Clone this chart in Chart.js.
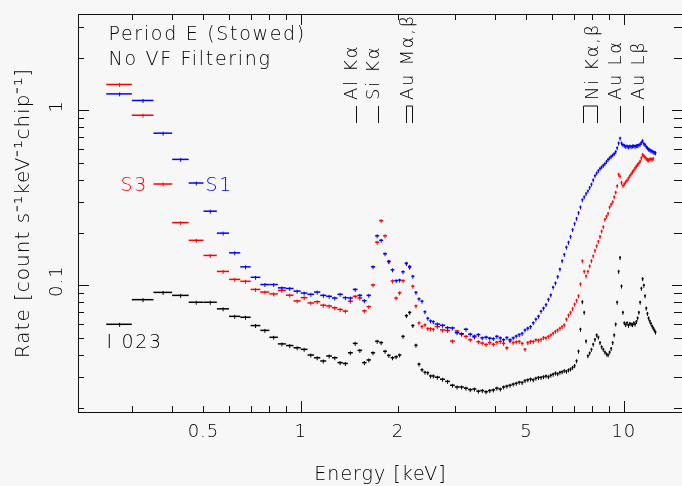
<!DOCTYPE html>
<html>
<head>
<meta charset="utf-8">
<script src="https://cdn.jsdelivr.net/npm/chart.js@4.4.1/dist/chart.umd.min.js"></script>
<style>
  html, body { margin: 0; padding: 0; background: #f7f7f7; overflow: hidden; }
  #wrap { width: 684px; height: 486px; }
  canvas { display: block; }
</style>
</head>
<body>
<div id="wrap"><canvas id="spectrum" width="684" height="486"></canvas></div>
<script>
// bin centres (keV): 0.05 keV bins below 2.6 keV, 0.1 keV bins above
const fineEnergy = [0.275, 0.325, 0.375, 0.425, 0.475, 0.525, 0.575, 0.625, 0.675, 0.725,
  0.775, 0.825, 0.875, 0.925, 0.975, 1.025, 1.075, 1.125, 1.175, 1.225,
  1.275, 1.325, 1.375, 1.425, 1.475, 1.525, 1.575, 1.625, 1.675, 1.725,
  1.775, 1.825, 1.875, 1.925, 1.975, 2.025, 2.075, 2.125, 2.175, 2.225,
  2.275, 2.325, 2.375, 2.425, 2.475, 2.525, 2.575];
const fineWidth = 0.05;
const coarseEnergy = [2.65, 2.75, 2.85, 2.95, 3.05, 3.15, 3.25, 3.35, 3.45, 3.55,
  3.65, 3.75, 3.85, 3.95, 4.05, 4.15, 4.25, 4.35, 4.45, 4.55,
  4.65, 4.75, 4.85, 4.95, 5.05, 5.15, 5.25, 5.35, 5.45, 5.55,
  5.65, 5.75, 5.85, 5.95, 6.05, 6.15, 6.25, 6.35, 6.45, 6.55,
  6.65, 6.75, 6.85, 6.95, 7.05, 7.15, 7.25, 7.35, 7.45, 7.55,
  7.65, 7.75, 7.85, 7.95, 8.05, 8.15, 8.25, 8.35, 8.45, 8.55,
  8.65, 8.75, 8.85, 8.95, 9.05, 9.15, 9.25, 9.35, 9.45, 9.55,
  9.65, 9.75, 9.85, 9.95, 10.05, 10.15, 10.25, 10.35, 10.45, 10.55,
  10.65, 10.75, 10.85, 10.95, 11.05, 11.15, 11.25, 11.35, 11.45, 11.55,
  11.65, 11.75, 11.85, 11.95, 12.05, 12.15, 12.25, 12.35, 12.45, 12.55];
const coarseWidth = 0.1;

// S1 (blue)
const s1Fine = [1.241, 1.138, 0.740, 0.524, 0.384, 0.265, 0.1985, 0.1532, 0.1274, 0.111,
  0.1009, 0.1009, 0.0966, 0.0958, 0.0925, 0.0902, 0.0887, 0.0914, 0.0875, 0.0864,
  0.0845, 0.0887, 0.0849, 0.0845, 0.0946, 0.0875, 0.0816, 0.0875, 0.1274, 0.1917,
  0.1806, 0.1513, 0.1369, 0.1225, 0.1062, 0.1070, 0.1194, 0.1335, 0.1280, 0.1124,
  0.0910, 0.0836, 0.0810, 0.0705, 0.0647, 0.0625, 0.0619];
const s1Coarse = [0.0600, 0.0590, 0.0572, 0.0570, 0.0535, 0.0528, 0.0560, 0.0525, 0.0512, 0.0522,
  0.0500, 0.0505, 0.0498, 0.0495, 0.0510, 0.0500, 0.0488, 0.0502, 0.0488, 0.0500,
  0.0512, 0.0522, 0.0530, 0.0555, 0.0568, 0.0580, 0.0610, 0.0640, 0.0665, 0.0710,
  0.0740, 0.0775, 0.0830, 0.0880, 0.0974, 0.1030, 0.1120, 0.1236, 0.1380, 0.1500,
  0.1650, 0.1760, 0.1900, 0.2080, 0.2250, 0.2410, 0.2600, 0.2800, 0.3080, 0.3200,
  0.3340, 0.3460, 0.3620, 0.3780, 0.4000, 0.4230, 0.4380, 0.4520, 0.4650, 0.4750,
  0.4850, 0.4950, 0.5100, 0.5230, 0.5350, 0.5450, 0.5550, 0.5650, 0.5800, 0.6100,
  0.6500, 0.6930, 0.6500, 0.6360, 0.6300, 0.6220, 0.6250, 0.6180, 0.6250, 0.6200,
  0.6250, 0.6270, 0.6220, 0.6280, 0.6300, 0.6330, 0.6400, 0.6550, 0.6700, 0.6450,
  0.6360, 0.6200, 0.6100, 0.6000, 0.5950, 0.5880, 0.5850, 0.5780, 0.5750, 0.5720];

// S3 (red)
const s3Fine = [1.405, 0.937, 0.379, 0.228, 0.1806, 0.148, 0.1199, 0.108, 0.1053, 0.0946,
  0.0914, 0.0892, 0.0934, 0.0877, 0.0813, 0.0849, 0.0792, 0.0805, 0.0769, 0.0761,
  0.0743, 0.0727, 0.0711, 0.0810, 0.0864, 0.0845, 0.0714, 0.0754, 0.1004, 0.176,
  0.234, 0.1917, 0.1364, 0.1058, 0.0845, 0.0905, 0.1062, 0.133, 0.1263, 0.0987,
  0.0761, 0.0609, 0.0581, 0.0594, 0.0565, 0.0565, 0.0560];
const s3Coarse = [0.0580, 0.0555, 0.0551, 0.0480, 0.0547, 0.0525, 0.0510, 0.0488, 0.0505, 0.0475,
  0.0467, 0.0458, 0.0470, 0.0460, 0.0472, 0.0477, 0.0465, 0.0439, 0.0480, 0.0470,
  0.0475, 0.0477, 0.0465, 0.0430, 0.0470, 0.0477, 0.0477, 0.0488, 0.0485, 0.0490,
  0.0502, 0.0500, 0.0510, 0.0520, 0.0532, 0.0545, 0.0555, 0.0568, 0.0580, 0.0594,
  0.0640, 0.0675, 0.0700, 0.0735, 0.0780, 0.0820, 0.0870, 0.1018, 0.1380, 0.1200,
  0.1130, 0.1200, 0.1290, 0.1380, 0.1470, 0.1580, 0.1680, 0.1780, 0.1900, 0.2040,
  0.2160, 0.2380, 0.2480, 0.2570, 0.2800, 0.2900, 0.3000, 0.3200, 0.3400, 0.3700,
  0.4310, 0.4200, 0.3870, 0.3710, 0.3800, 0.3900, 0.3980, 0.4100, 0.4220, 0.4330,
  0.4450, 0.4550, 0.4680, 0.4800, 0.4900, 0.5000, 0.5120, 0.5350, 0.5590, 0.5500,
  0.5400, 0.5300, 0.5240, 0.5200, 0.5260, 0.5280, 0.5240, 0.5300];

// I 023 (black)
const i023Fine = [0.0598, 0.0827, 0.0910, 0.0875, 0.0799, 0.0799, 0.0733, 0.0664, 0.0656, 0.0588,
  0.0552, 0.0504, 0.0462, 0.0452, 0.0439, 0.0430, 0.0399, 0.0385, 0.0369, 0.0394,
  0.0385, 0.0361, 0.0357, 0.0411, 0.0465, 0.0424, 0.0361, 0.0374, 0.0411, 0.0478,
  0.0470, 0.0419, 0.0397, 0.0385, 0.0390, 0.0399, 0.0510, 0.0670, 0.0699, 0.0588,
  0.0454, 0.0354, 0.0329, 0.0318, 0.0316, 0.0303, 0.0303];
const i023Coarse = [0.0298, 0.0290, 0.0282, 0.0268, 0.0262, 0.0262, 0.0258, 0.0253, 0.0255, 0.0248,
  0.0250, 0.0246, 0.0250, 0.0252, 0.0258, 0.0255, 0.0262, 0.0265, 0.0268, 0.0272,
  0.0275, 0.0279, 0.0278, 0.0285, 0.0288, 0.0291, 0.0288, 0.0294, 0.0297, 0.0297,
  0.0300, 0.0303, 0.0300, 0.0306, 0.0310, 0.0315, 0.0312, 0.0318, 0.0320, 0.0325,
  0.0322, 0.0328, 0.0332, 0.0339, 0.0347, 0.0370, 0.0420, 0.0560, 0.0805, 0.0700,
  0.0480, 0.0395, 0.0410, 0.0430, 0.0460, 0.0490, 0.0520, 0.0505, 0.0470, 0.0445,
  0.0430, 0.0415, 0.0405, 0.0400, 0.0415, 0.0435, 0.0470, 0.0520, 0.0600, 0.0800,
  0.1200, 0.1440, 0.0990, 0.0700, 0.0610, 0.0595, 0.0610, 0.0590, 0.0605, 0.0600,
  0.0595, 0.0610, 0.0600, 0.0620, 0.0650, 0.0700, 0.0800, 0.0960, 0.1090, 0.1000,
  0.0870, 0.0740, 0.0690, 0.0650, 0.0625, 0.0605, 0.0585, 0.0570, 0.0555, 0.0540];

const seriesNames = ['I 023', 'S3', 'S1'];
const seriesColors = ['#000000', '#ff0000', '#0000ff'];

// axis ticks
const xTickValues = [0.3, 0.4, 0.5, 0.6, 0.7, 0.8, 0.9, 1, 2, 3, 4, 5, 6, 7, 8, 9, 10];
const xLabelValues = [0.5, 1, 2, 5, 10];
const xTickLabels = ['0.5', '1', '2', '5', '10'];
const yTickValues = [0.02, 0.03, 0.04, 0.05, 0.06, 0.07, 0.08, 0.09, 0.1,
  0.2, 0.3, 0.4, 0.5, 0.6, 0.7, 0.8, 0.9, 1, 2, 3];
const yLabelValues = [0.1, 1];
const yTickLabels = ['0.1', '1'];

// emission lines marked along the top
const lineNames = ['Al Kα', 'Si Kα', 'Au Mα,β', 'Ni Kα,β', 'Au Lα', 'Au Lβ'];
const lineEnergies = [[1.486], [1.740], [2.123, 2.205], [7.478, 8.265], [9.713], [11.442]];

const noteTexts = ['Period E (Stowed)', 'No VF Filtering'];

const FAMILY = '"DejaVu Sans", sans-serif';
const WEIGHT = 200;

function toPoints(fine, coarse) {
  const pts = fine.map((v, i) => ({ x: fineEnergy[i], y: v, w: fineWidth }));
  coarse.forEach((v, i) => pts.push({ x: coarseEnergy[i], y: v, w: coarseWidth }));
  return pts;
}

const isDecade = v => Math.abs(Math.log10(v) - Math.round(Math.log10(v))) < 1e-9;

const spectrumPlugin = {
  id: 'spectrum',
  beforeLayout(chart) { chart.ctx.letterSpacing = '1px'; },
  beforeDraw(chart) { chart.ctx.letterSpacing = '1px'; },
  afterDatasetsDraw(chart) {
    const { ctx, scales: { x } } = chart;
    ctx.save();
    chart.data.datasets.forEach((ds, di) => {
      const meta = chart.getDatasetMeta(di);
      ctx.strokeStyle = ds.borderColor;
      meta.data.forEach((pt, i) => {
        const d = ds.data[i];
        let x0 = x.getPixelForValue(d.x - d.w / 2);
        let x1 = x.getPixelForValue(d.x + d.w / 2);
        if (x1 - x0 < 2) { x0 = pt.x - 1; x1 = pt.x + 1; }
        ctx.lineWidth = 1.5;
        ctx.beginPath(); ctx.moveTo(x0, pt.y); ctx.lineTo(x1, pt.y); ctx.stroke();
        ctx.lineWidth = 1;
        ctx.beginPath(); ctx.moveTo(pt.x, pt.y - 1.5); ctx.lineTo(pt.x, pt.y + 2.5); ctx.stroke();
      });
    });
    ctx.restore();
  },
  afterDraw(chart) {
    const { ctx, chartArea: a, scales: { x, y } } = chart;
    ctx.save();
    ctx.strokeStyle = '#111';
    ctx.lineWidth = 1;
    // frame
    ctx.strokeRect(Math.round(a.left) + 0.5, Math.round(a.top) + 0.5,
      Math.round(a.right - a.left), Math.round(a.bottom - a.top));
    // inward ticks
    ctx.beginPath();
    xTickValues.forEach(v => {
      const px = Math.round(x.getPixelForValue(v)) + 0.5;
      const len = isDecade(v) ? 11 : 6;
      ctx.moveTo(px, a.bottom); ctx.lineTo(px, a.bottom - len);
      ctx.moveTo(px, a.top); ctx.lineTo(px, a.top + len);
    });
    yTickValues.forEach(v => {
      const py = Math.round(y.getPixelForValue(v)) + 0.5;
      const len = isDecade(v) ? 11 : 6;
      ctx.moveTo(a.left, py); ctx.lineTo(a.left + len, py);
      ctx.moveTo(a.right, py); ctx.lineTo(a.right - (isDecade(v) ? 11 : 9), py);
    });
    ctx.stroke();

    // emission line markers
    ctx.letterSpacing = '1.7px';
    ctx.fillStyle = '#000';
    ctx.font = WEIGHT + ' 18px ' + FAMILY;
    ctx.textAlign = 'left';
    ctx.textBaseline = 'alphabetic';
    lineNames.forEach((name, i) => {
      const px = lineEnergies[i].map(e => Math.round(x.getPixelForValue(e)) + 0.5);
      ctx.beginPath();
      px.forEach(p => { ctx.moveTo(p, 106); ctx.lineTo(p, 123); });
      if (px.length > 1) { ctx.moveTo(px[0], 106); ctx.lineTo(px[px.length - 1], 106); }
      ctx.stroke();
      ctx.save();
      ctx.translate(px[px.length - 1] + 0.5, 100);
      ctx.rotate(-Math.PI / 2);
      ctx.fillText(name, 0, 0);
      ctx.restore();
    });

    // notes and series labels
    ctx.font = WEIGHT + ' 19px ' + FAMILY;
    ctx.fillStyle = '#000';
    ctx.fillText(noteTexts[0], 108.5, 40);
    ctx.fillText(noteTexts[1], 108.5, 65);
    ctx.fillText(seriesNames[0], 106.5, 348);
    ctx.fillStyle = seriesColors[1];
    ctx.fillText(seriesNames[1], 120.5, 190.5);
    ctx.fillStyle = seriesColors[2];
    ctx.fillText(seriesNames[2], 205.5, 190.5);
    ctx.restore();
  }
};

new Chart(document.getElementById('spectrum'), {
  type: 'scatter',
  data: {
    datasets: [
      { label: seriesNames[0], data: toPoints(i023Fine, i023Coarse), borderColor: seriesColors[0], backgroundColor: seriesColors[0] },
      { label: seriesNames[1], data: toPoints(s3Fine, s3Coarse), borderColor: seriesColors[1], backgroundColor: seriesColors[1] },
      { label: seriesNames[2], data: toPoints(s1Fine, s1Coarse), borderColor: seriesColors[2], backgroundColor: seriesColors[2] }
    ]
  },
  options: {
    responsive: false,
    animation: false,
    events: [],
    layout: { padding: { top: 7, right: 1, left: 0, bottom: 0 } },
    elements: { point: { radius: 0, hoverRadius: 0 } },
    plugins: { legend: { display: false }, tooltip: { enabled: false } },
    scales: {
      x: {
        type: 'logarithmic',
        position: 'bottom',
        min: 0.2044,
        max: 15.27,
        bounds: 'data',
        afterBuildTicks: s => { s.ticks = xTickValues.map(v => ({ value: v })); },
        afterFit: s => { s.height = 74; },
        grid: { display: false, drawTicks: false },
        border: { display: false },
        ticks: {
          autoSkip: false, minRotation: 0, maxRotation: 0, padding: 11,
          color: '#000', font: { family: FAMILY, size: 18, weight: WEIGHT, lineHeight: 1 },
          callback: v => { const i = xLabelValues.indexOf(v); return i >= 0 ? xTickLabels[i] : ''; }
        },
        title: {
          display: true, text: 'Energy [keV]', color: '#000',
          font: { family: FAMILY, size: 19, weight: WEIGHT, lineHeight: 1 },
          padding: { top: 0, bottom: 1.5 }
        }
      },
      y: {
        type: 'logarithmic',
        position: 'left',
        min: 0.01885,
        max: 3.552,
        bounds: 'data',
        afterBuildTicks: s => { s.ticks = yTickValues.map(v => ({ value: v })); },
        afterFit: s => { s.width = 78; },
        grid: { display: false, drawTicks: false },
        border: { display: false },
        ticks: {
          autoSkip: false, minRotation: 90, maxRotation: 90, crossAlign: 'center', padding: 5,
          labelOffset: -4,
          color: '#000', font: { family: FAMILY, size: 18, weight: WEIGHT, lineHeight: 1 },
          callback: v => { const i = yLabelValues.indexOf(v); return i >= 0 ? yTickLabels[i] : ''; }
        },
        title: {
          display: true, text: 'Rate [count s⁻¹keV⁻¹chip⁻¹]', color: '#000',
          font: { family: FAMILY, size: 20, weight: WEIGHT, lineHeight: 1 },
          padding: { top: 14, bottom: 0 }
        }
      }
    }
  },
  plugins: [spectrumPlugin]
});
</script>
</body>
</html>
